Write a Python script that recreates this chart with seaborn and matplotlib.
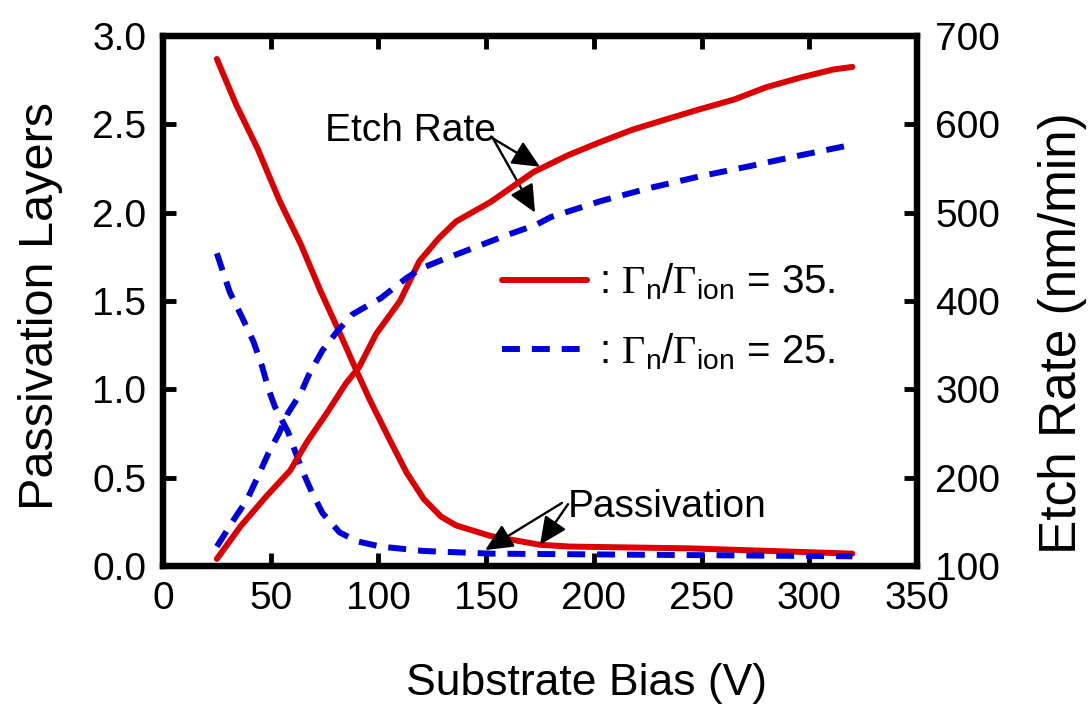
import numpy as np
import pandas as pd
import matplotlib
matplotlib.use("Agg")
import matplotlib.pyplot as plt
import seaborn as sns
from matplotlib.lines import Line2D

# ---------------- data ----------------
etch35_x = [25, 36, 48, 59, 67, 76, 85, 91, 99, 110, 119, 128, 136, 152, 172, 188, 203, 218, 234, 249, 265, 280, 296, 311, 320]
etch35_y = [108, 145, 179, 208, 241, 273, 307, 325, 363, 400, 445, 471, 490, 512, 546, 565, 580, 594, 606, 617, 628, 642, 653, 662, 665]

etch25_x = [25, 33, 39, 44, 49, 54, 58, 64, 68, 74, 81, 88, 101, 113, 120, 128, 144, 160, 173, 180, 203, 226, 249, 273, 296, 320]
etch25_y = [122, 153, 175, 201, 228, 251, 273, 296, 318, 344, 366, 385, 403, 426, 437, 445, 460, 475, 486, 495, 513, 528, 541, 553, 565, 577]

pass35_x = [25, 34, 44, 54, 64, 73, 82, 90, 96, 105, 113, 121, 129, 136, 152, 175, 189, 244, 295, 320]
pass35_y = [2.87, 2.61, 2.36, 2.07, 1.82, 1.56, 1.32, 1.10, 0.94, 0.72, 0.53, 0.38, 0.28, 0.23, 0.17, 0.12, 0.11, 0.10, 0.08, 0.07]

pass25_x = [25, 31, 37, 42, 46, 49, 52, 58, 61, 65, 69, 74, 82, 90, 101, 121, 152, 320]
pass25_y = [1.77, 1.55, 1.40, 1.27, 1.13, 1.00, 0.90, 0.76, 0.66, 0.53, 0.42, 0.30, 0.19, 0.14, 0.11, 0.085, 0.07, 0.055]

x_ticks = [0, 50, 100, 150, 200, 250, 300, 350]
left_ticks = [0.0, 0.5, 1.0, 1.5, 2.0, 2.5, 3.0]
right_ticks = [100, 200, 300, 400, 500, 600, 700]

legend_labels = [r": $\mathrm{\Gamma}_{\mathsf{n}}\mathsf{/}\mathrm{\Gamma}_{\mathsf{ion}}$ = 35.",
                 r": $\mathrm{\Gamma}_{\mathsf{n}}\mathsf{/}\mathrm{\Gamma}_{\mathsf{ion}}$ = 25."]

RED = "#DD0000"
BLUE = "#0000DD"

# ---------------- style ----------------
sns.set_style("ticks")
plt.rcParams["font.family"] = ["Liberation Sans", "DejaVu Sans"]
plt.rcParams["mathtext.fontset"] = "custom"
plt.rcParams["mathtext.rm"] = "Liberation Serif"
plt.rcParams["mathtext.sf"] = "Liberation Sans"
plt.rcParams["mathtext.it"] = "Liberation Sans:italic"
plt.rcParams["text.color"] = "black"
plt.rcParams["axes.labelcolor"] = "black"

TICK_FS = 28
XLAB_FS = 32
YLAB_FS = 35
Y2LAB_FS = 37
ANN_FS = 28
LEG_FS = 29

fig = plt.figure(figsize=(10.88, 7.08), dpi=100)
ax = fig.add_axes([163 / 1088, 1 - 566 / 708, (917 - 163) / 1088, (566 - 36) / 708])
ax2 = ax.twinx()

lw = 4.3
dash = (0, (3.0, 2.0))

# passivation on left axis
sns.lineplot(x=pass35_x, y=pass35_y, ax=ax, color=RED, lw=lw, sort=False, estimator=None)
sns.lineplot(x=pass25_x, y=pass25_y, ax=ax, color=BLUE, lw=lw, linestyle=dash,
             sort=False, estimator=None, dash_capstyle="butt")
# etch rate on right axis
sns.lineplot(x=etch35_x, y=etch35_y, ax=ax2, color=RED, lw=lw, sort=False, estimator=None)
sns.lineplot(x=etch25_x, y=etch25_y, ax=ax2, color=BLUE, lw=lw, linestyle=dash,
             sort=False, estimator=None, dash_capstyle="butt")

ax.set_xlim(0, 350)
ax.set_ylim(0, 3.0)
ax2.set_ylim(100, 700)
ax.set_xticks(x_ticks)
ax.set_yticks(left_ticks)
ax.set_yticklabels([f"{v:.1f}" for v in left_ticks])
ax2.set_yticks(right_ticks)

for a in (ax, ax2):
    for s in a.spines.values():
        s.set_linewidth(4.5)
        s.set_color("black")
        s.set_visible(True)

ax.tick_params(axis="x", direction="in", length=9.5, width=3.5, top=True, bottom=True,
               labelsize=TICK_FS, pad=11, colors="black")
ax.tick_params(axis="y", direction="in", length=9.5, width=3.5, left=True, right=False,
               labelsize=TICK_FS, pad=12, colors="black")
ax2.tick_params(axis="y", direction="in", length=9.5, width=3.5, right=True,
                labelsize=TICK_FS, pad=13, colors="black")

ax.set_xlabel("Substrate Bias (V)", fontsize=XLAB_FS, color="black")
ax.set_ylabel("Passivation Layers", fontsize=YLAB_FS, color="black")
ax2.set_ylabel("Etch Rate (nm/min)", fontsize=Y2LAB_FS, color="black")
ax.xaxis.set_label_coords(0.562, -0.183)
ax.yaxis.set_label_coords(-0.133, 0.49)
ax2.yaxis.set_label_coords(1.160, 0.44)

# legend
handles = [Line2D([], [], color=RED, lw=lw),
           Line2D([], [], color=BLUE, lw=lw, linestyle=dash, dash_capstyle="butt")]
ax2.legend(handles, legend_labels, loc="center left", bbox_to_anchor=(0.4496, 0.470),
           frameon=False, fontsize=LEG_FS, handlelength=2.1, handletextpad=0.3,
           borderpad=0, borderaxespad=0, labelspacing=0.72)

# annotations
arrow = dict(arrowstyle="-|>,head_length=0.65,head_width=0.3", mutation_scale=26,
             lw=1.7, color="black", shrinkA=0, shrinkB=0)
ax.text(75.2, 2.405, "Etch Rate", fontsize=ANN_FS, ha="left", va="baseline")
ax.annotate("", xy=(175, 2.26), xytext=(153.2, 2.42), arrowprops=arrow)
ax.annotate("", xy=(172.7, 2.0), xytext=(153.2, 2.42), arrowprops=arrow)
ax.text(188, 0.277, "Passivation", fontsize=ANN_FS, ha="left", va="baseline")
ax.annotate("", xy=(149.5, 0.09), xytext=(185.2, 0.357), arrowprops=arrow)
ax.annotate("", xy=(175, 0.12), xytext=(188, 0.35), arrowprops=arrow)

fig.savefig("out.png", dpi=100)
